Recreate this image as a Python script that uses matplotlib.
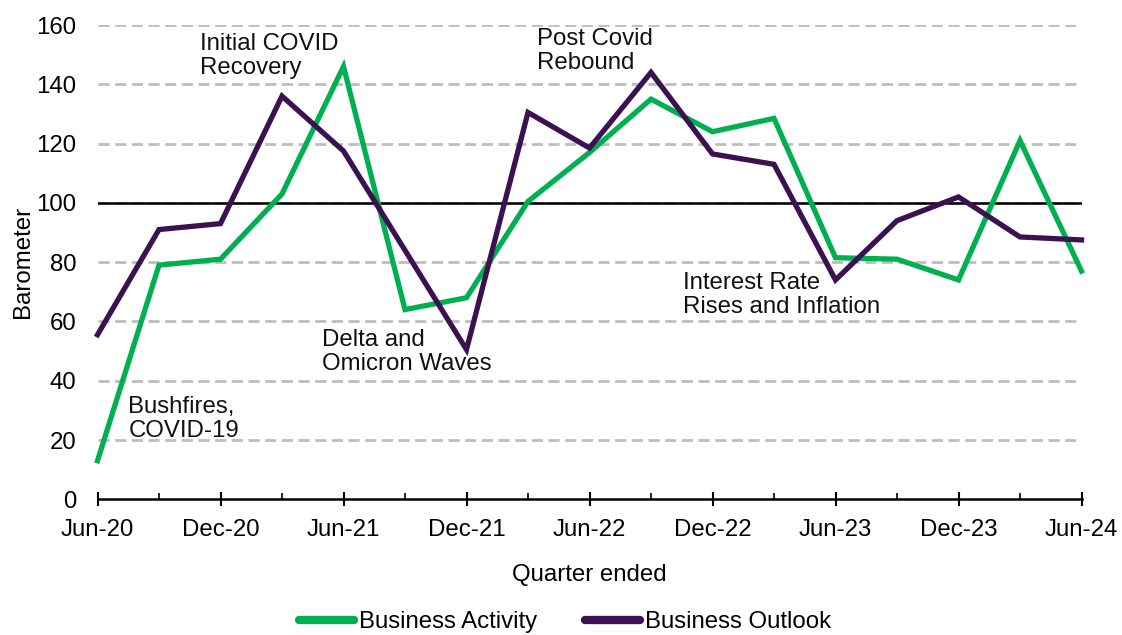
import matplotlib
matplotlib.use("Agg")
import matplotlib.pyplot as plt
from matplotlib.ticker import MultipleLocator, FixedLocator

plt.rcParams['font.family'] = ['Liberation Sans', 'DejaVu Sans']

quarters = ["Jun-20", "Sep-20", "Dec-20", "Mar-21", "Jun-21", "Sep-21", "Dec-21",
            "Mar-22", "Jun-22", "Sep-22", "Dec-22", "Mar-23", "Jun-23", "Sep-23",
            "Dec-23", "Mar-24", "Jun-24"]
business_activity = [13, 79, 81, 103, 146, 64, 68, 100.5, 117, 135, 124, 128.5,
                     81.5, 81, 74, 121, 77]
business_outlook = [55.5, 91, 93, 136, 117.5, 84, 50.5, 130.5, 118.5, 144, 116.5, 113,
                    74, 94, 102, 88.5, 87.5]
baseline_value = 100

annotations = [
    ("Initial COVID\nRecovery", 1.67, 157.3),
    ("Bushfires,\nCOVID-19", 0.50, 34.8),
    ("Delta and\nOmicron Waves", 3.65, 57.6),
    ("Post Covid\nRebound", 7.15, 159.0),
    ("Interest Rate\nRises and Inflation", 9.52, 76.6),
]

GREEN = "#00B050"
PURPLE = "#3B1152"
FS = 17.3

fig = plt.figure(figsize=(11.22, 6.35), dpi=100)
ax = fig.add_axes([97.5 / 1122, 1 - 499.3 / 635, (1081.5 - 97.5) / 1122, (499.3 - 25) / 635])

x = list(range(len(quarters)))
ax.set_xlim(0, len(quarters) - 1)
ax.set_ylim(0, 160)

# dashed horizontal gridlines
for yv in range(20, 161, 20):
    ax.axhline(yv, color="#BDBDBD", lw=2.0, ls=(0, (4, 2)), zorder=1)
ax.axhline(baseline_value, color="black", lw=1.8, zorder=2)

ax.plot(x, business_activity, color=GREEN, lw=3.8, label="Business Activity",
        zorder=3, solid_joinstyle="miter", clip_on=False)
ax.plot(x, business_outlook, color=PURPLE, lw=3.8, label="Business Outlook",
        zorder=4, solid_joinstyle="miter", clip_on=False)

for txt, tx, ty in annotations:
    ax.text(tx, ty, txt, fontsize=FS, va="top", ha="left", linespacing=1.12,
            color="#111111", clip_on=False, zorder=5)

for s in ["left", "right", "top"]:
    ax.spines[s].set_visible(False)
ax.spines["bottom"].set_linewidth(1.8)
ax.spines["bottom"].set_zorder(6)

ax.xaxis.set_major_locator(FixedLocator(x[::2]))
ax.set_xticklabels(quarters[::2])
ax.xaxis.set_minor_locator(FixedLocator(x))
ax.tick_params(axis="x", which="major", direction="inout", length=10, width=1.5,
               labelsize=FS, pad=9)
ax.tick_params(axis="x", which="minor", direction="in", length=4.5, width=1.2)

ax.yaxis.set_major_locator(MultipleLocator(20))
ax.tick_params(axis="y", which="both", length=0, labelsize=FS, pad=15)

ax.set_ylabel("Barometer", fontsize=FS, labelpad=2)
ax.set_xlabel("Quarter ended", fontsize=FS, labelpad=17)

leg = fig.legend(loc="center", bbox_to_anchor=(565 / 1122, 1 - 622 / 635), ncol=2,
                 frameon=False, fontsize=FS, handlelength=2.3, handletextpad=0.2,
                 columnspacing=2.0)
for line in leg.get_lines():
    line.set_linewidth(6)
    line.set_solid_capstyle("round")

fig.savefig("out.png", dpi=100)
